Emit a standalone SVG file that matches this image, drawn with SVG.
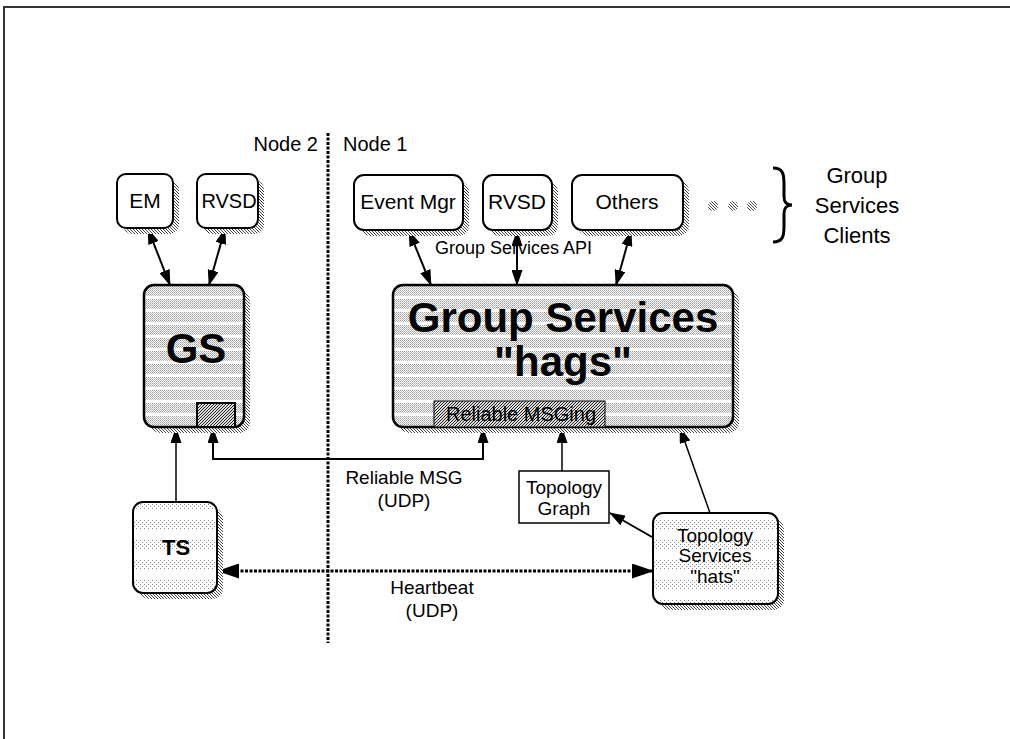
<svg xmlns="http://www.w3.org/2000/svg" width="1010" height="739" viewBox="0 0 1010 739">
<style>
text{font-family:"Liberation Sans",Arial,sans-serif;fill:#000}
.t{font-size:21px;text-anchor:middle}
.big{font-size:42px;font-weight:bold;text-anchor:middle}
.box{stroke:#000;stroke-width:2}
.con{stroke:#000;stroke-width:2;fill:none}
.dot3{stroke:#000;stroke-width:3;fill:none;stroke-dasharray:3 1.5}
</style>
<defs>
<pattern id="shadow" width="3" height="3" patternUnits="userSpaceOnUse"><rect width="3" height="3" fill="#fff"/><rect x="0" y="0" width="1" height="1" fill="#444"/><rect x="1" y="1" width="1" height="1" fill="#444"/><rect x="2" y="2" width="1" height="1" fill="#444"/></pattern>
<pattern id="dots" width="2" height="2" patternUnits="userSpaceOnUse"><rect width="2" height="2" fill="#fff"/><rect width="1" height="1" fill="#999"/><rect x="1" y="1" width="1" height="1" fill="#bbb"/></pattern>
<pattern id="sdots" width="4" height="4" patternUnits="userSpaceOnUse"><rect width="4" height="4" fill="#fff"/><rect width="1" height="1" fill="#888"/><rect x="2" y="2" width="1" height="1" fill="#888"/></pattern>
<pattern id="band" width="8" height="13" patternUnits="userSpaceOnUse"><rect width="8" height="13" fill="#fff"/><rect width="8" height="10" fill="url(#dots)"/></pattern>
<pattern id="band2" width="8" height="20" patternUnits="userSpaceOnUse"><rect width="8" height="20" fill="#fff"/><rect width="8" height="9" fill="url(#sdots)"/></pattern>
<pattern id="hatch" width="3" height="3" patternUnits="userSpaceOnUse"><rect width="3" height="3" fill="#ddd"/><rect x="0" y="2" width="1" height="1" fill="#222"/><rect x="1" y="1" width="1" height="1" fill="#222"/><rect x="2" y="0" width="1" height="1" fill="#222"/></pattern>
<marker id="ah" viewBox="0 0 16 11" refX="15" refY="5.5" markerWidth="16" markerHeight="11" markerUnits="userSpaceOnUse" orient="auto-start-reverse"><path d="M0,0 L16,5.5 L0,11 z" fill="#000"/></marker>
<marker id="ahb" viewBox="0 0 22 15" refX="21" refY="7.5" markerWidth="22" markerHeight="15" markerUnits="userSpaceOnUse" orient="auto-start-reverse"><path d="M0,0 L22,7.5 L0,15 z" fill="#000"/></marker>
</defs>
<rect width="1010" height="739" fill="#fff"/>
<g id="frame"><path d="M4,739 L4,7 L1010,7" fill="none" stroke="#333" stroke-width="2"/></g>
<g id="divider">
<line x1="328" y1="133" x2="328" y2="643" class="dot3"/>
<text x="318" y="151" style="font-size:20px;text-anchor:end">Node 2</text>
<text x="343" y="151" style="font-size:20px">Node 1</text>
</g>
<g id="connectors">
<line x1="148" y1="229" x2="170" y2="285" class="con" marker-start="url(#ah)" marker-end="url(#ah)"/>
<line x1="225" y1="229" x2="209" y2="285" class="con" marker-start="url(#ah)" marker-end="url(#ah)"/>
<line x1="409" y1="231" x2="431" y2="285" class="con" marker-start="url(#ah)" marker-end="url(#ah)"/>
<line x1="517" y1="231" x2="517" y2="285" class="con" marker-start="url(#ah)" marker-end="url(#ah)"/>
<line x1="631" y1="231" x2="616" y2="285" class="con" marker-start="url(#ah)" marker-end="url(#ah)"/>
<line x1="176" y1="502" x2="176" y2="428" stroke="#000" stroke-width="1.5" marker-end="url(#ah)"/>
<polyline points="213,428 213,459 483,459 483,428" class="con" marker-start="url(#ah)" marker-end="url(#ah)"/>
<line x1="562" y1="471" x2="562" y2="428" stroke="#000" stroke-width="1.5" marker-end="url(#ah)"/>
<line x1="710" y1="513" x2="680" y2="428" stroke="#000" stroke-width="1.5" marker-end="url(#ah)"/>
<line x1="652" y1="537" x2="610" y2="513" class="con" marker-end="url(#ah)"/>
<line x1="218" y1="571" x2="653" y2="571" class="dot3" marker-start="url(#ahb)" marker-end="url(#ahb)"/>
<text class="t" x="404" y="484" style="font-size:19px">Reliable MSG</text>
<text class="t" x="404" y="507" style="font-size:19px">(UDP)</text>
<text class="t" x="432" y="594" style="font-size:19px">Heartbeat</text>
<text class="t" x="432" y="617" style="font-size:19px">(UDP)</text>
<text x="435" y="254" style="font-size:18px">Group Services API</text>
</g>
<g id="em">
<rect x="123" y="180" width="56" height="54" rx="9" fill="url(#shadow)"/>
<rect x="117" y="174" width="56" height="54" rx="9" class="box" fill="#fff"/>
<text class="t" x="145" y="208">EM</text>
</g>
<g id="rvsd2">
<rect x="203" y="180" width="61" height="54" rx="9" fill="url(#shadow)"/>
<rect x="197" y="174" width="61" height="54" rx="9" class="box" fill="#fff"/>
<text class="t" x="229" y="208" style="font-size:20px">RVSD</text>
</g>
<g id="gs">
<rect x="150" y="291" width="100" height="142" rx="10" fill="url(#shadow)"/>
<rect x="144" y="285" width="100" height="142" rx="10" fill="url(#band)" stroke="#000" stroke-width="2.5"/>
<rect x="197" y="403" width="38" height="24" fill="url(#hatch)" stroke="#000" stroke-width="2"/>
<text class="big" x="196" y="363">GS</text>
</g>
<g id="eventmgr">
<rect x="360" y="181" width="109" height="55" rx="10" fill="url(#shadow)"/>
<rect x="354" y="175" width="109" height="55" rx="10" class="box" fill="#fff"/>
<text class="t" x="408" y="209">Event Mgr</text>
</g>
<g id="rvsd1">
<rect x="489" y="181" width="69" height="55" rx="10" fill="url(#shadow)"/>
<rect x="483" y="175" width="69" height="55" rx="10" class="box" fill="#fff"/>
<text class="t" x="517" y="209">RVSD</text>
</g>
<g id="others">
<rect x="578" y="181" width="111" height="55" rx="10" fill="url(#shadow)"/>
<rect x="572" y="175" width="111" height="55" rx="10" class="box" fill="#fff"/>
<text class="t" x="627" y="209">Others</text>
</g>
<g id="more">
<circle cx="713" cy="206" r="5" fill="url(#shadow)"/>
<circle cx="733" cy="206" r="5" fill="url(#shadow)"/>
<circle cx="752" cy="206" r="5" fill="url(#shadow)"/>
</g>
<g id="clients">
<path d="M773,168 C783,168 784,174 784,184 L784,196 C784,202 786,205 792,205 C786,205 784,208 784,214 L784,226 C784,236 783,242 773,242" fill="none" stroke="#000" stroke-width="3"/>
<text x="857" y="183" style="font-size:22px;text-anchor:middle">Group</text>
<text x="857" y="213" style="font-size:22px;text-anchor:middle">Services</text>
<text x="857" y="243" style="font-size:22px;text-anchor:middle">Clients</text>
</g>
<g id="hags">
<rect x="399" y="291" width="340" height="142" rx="10" fill="url(#shadow)"/>
<rect x="393" y="285" width="340" height="142" rx="10" fill="url(#band)" stroke="#000" stroke-width="2.5"/>
<text class="big" x="563" y="332">Group Services</text>
<text class="big" x="563" y="376">"hags"</text>
</g>
<g id="reliable">
<rect x="434" y="401" width="171" height="26" fill="url(#hatch)" stroke="#000" stroke-width="1"/>
<text class="t" x="521" y="421" style="font-size:20px">Reliable MSGing</text>
</g>
<g id="ts">
<rect x="139" y="508" width="84" height="91" rx="10" fill="url(#shadow)"/>
<rect x="133" y="502" width="84" height="91" rx="10" class="box" fill="url(#band2)"/>
<text class="t" x="176" y="555" style="font-weight:bold;font-size:22px">TS</text>
</g>
<g id="topograph">
<rect x="519" y="471" width="90" height="52" fill="#fff" stroke="#000" stroke-width="1.5"/>
<text class="t" x="564" y="494" style="font-size:19px">Topology</text>
<text class="t" x="564" y="515" style="font-size:19px">Graph</text>
</g>
<g id="hats">
<rect x="659" y="519" width="125" height="91" rx="10" fill="url(#shadow)"/>
<rect x="653" y="513" width="125" height="91" rx="10" class="box" fill="url(#band2)"/>
<text class="t" x="715" y="542" style="font-size:19px">Topology</text>
<text class="t" x="715" y="562" style="font-size:19px">Services</text>
<text class="t" x="715" y="583" style="font-size:19px">"hats"</text>
</g>
</svg>
